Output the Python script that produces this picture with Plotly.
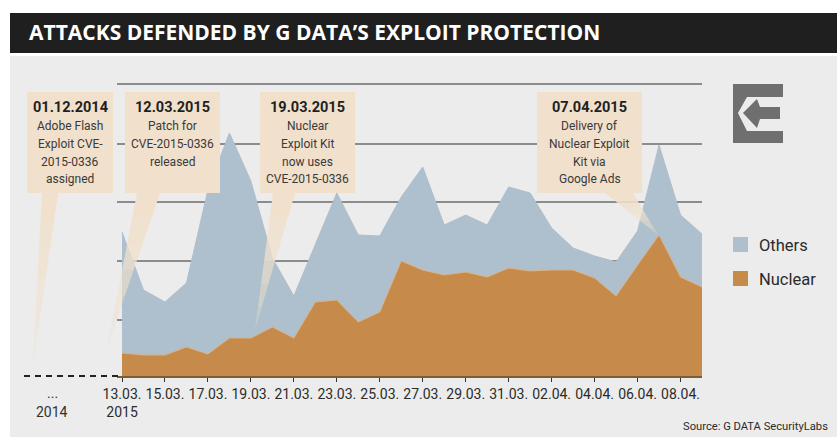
import plotly.graph_objects as go

W, H = 837, 437
FONT = "Roboto"

dates = ["13.03.", "14.03.", "15.03.", "16.03.", "17.03.", "18.03.", "19.03.", "20.03.", "21.03.", "22.03.",
         "23.03.", "24.03.", "25.03.", "26.03.", "27.03.", "28.03.", "29.03.", "30.03.", "31.03.", "01.04.",
         "02.04.", "03.04.", "04.04.", "05.04.", "06.04.", "07.04.", "08.04.", "09.04."]
nuclear = [23, 21, 21, 29, 22, 38, 38, 49, 38, 74, 76, 54, 64, 115, 106, 101, 104, 99, 108, 105, 106, 106, 98, 80,
           111, 141, 99, 89]
others = [121, 65, 53, 64, 164, 205, 157, 69, 42, 57, 107, 87, 76, 64, 103, 50, 57, 52, 81, 78, 42, 22, 22, 34,
          34, 90, 62, 53]
tick_dates = dates[0:27:2]
tick_labels = ["13.03.<br>2015"] + tick_dates[1:]
grid_values = [56, 115, 174, 232, 292]

callouts = [
    ("01.12.2014", ["Adobe Flash", "Exploit CVE-", "2015-0336", "assigned"]),
    ("12.03.2015", ["Patch for", "CVE-2015-0336", "released"]),
    ("19.03.2015", ["Nuclear", "Exploit Kit", "now uses", "CVE-2015-0336"]),
    ("07.04.2015", ["Delivery of", "Nuclear Exploit", "Kit via", "Google Ads"]),
]
callout_boxes = [(27, 113), (125, 220), (260, 355), (537, 642)]
callout_tails = [((42, 58), (33, 365)), ((137, 160), (107, 348)), ((273, 295), (255, 330)), ((605, 633), (658, 235))]


def px(x):
    return x / W


def py(y):
    return 1 - y / H


def rect(x0, y0, x1, y1, color, layer="below"):
    return dict(type="rect", xref="paper", yref="paper", x0=px(x0), x1=px(x1), y0=py(y0), y1=py(y1),
                fillcolor=color, line_width=0, layer=layer)


def poly(points, color, opacity=1.0, layer="above"):
    d = "M" + " L".join(f"{px(x):.5f},{py(y):.5f}" for x, y in points) + " Z"
    return dict(type="path", xref="paper", yref="paper", path=d, fillcolor=color, line_width=0,
                opacity=opacity, layer=layer)


def label(x, y, text, size=14, color="#444444", anchor="center", yanchor="middle", bold=False, family=FONT):
    return dict(xref="paper", yref="paper", x=px(x), y=py(y), xanchor=anchor, yanchor=yanchor, showarrow=False,
                text=f"<b>{text}</b>" if bold else text, align=anchor,
                font=dict(family=family, size=size, color=color))


fig = go.Figure()
fig.add_trace(go.Scatter(x=dates, y=nuclear, name="Nuclear", stackgroup="one", mode="lines",
                         line=dict(color="#d8b083", width=1), fillcolor="#c68b4a", hoverinfo="x+y"))
fig.add_trace(go.Scatter(x=dates, y=others, name="Others", stackgroup="one", mode="lines",
                         line=dict(color="#aebfcd", width=1), fillcolor="#aebfcd", hoverinfo="x+y"))

shapes = [
    rect(10, 56, 837, 437, "#ececec"),
    rect(10, 13, 837, 53, "#1f1f1f"),
    dict(type="line", xref="paper", yref="paper", x0=px(24), x1=px(122), y0=py(376), y1=py(376),
         line=dict(color="#222222", width=2, dash="6px,5px"), layer="above"),
    rect(733, 237, 748, 252, "#aebfcd"),
    rect(733, 271, 748, 286, "#c68b4a"),
    poly([(733, 84), (783, 84), (783, 97), (747, 97), (738, 113), (747, 131), (783, 131), (783, 143), (733, 143)],
         "#6f6f6f"),
    poly([(743, 113), (757, 99), (760, 107), (780, 107), (780, 119), (760, 119), (757, 128)], "#6f6f6f"),
]

annotations = [
    label(27, 32, "ATTACKS DEFENDED BY G DATA’S EXPLOIT PROTECTION", size=21, color="#ffffff", anchor="left",
          bold=True, family="Open Sans"),
    label(757, 245, "Others", size=16.5, color="#2b2b2b", anchor="left"),
    label(757, 279, "Nuclear", size=16.5, color="#2b2b2b", anchor="left"),
    label(830, 426, "Source: G DATA SecurityLabs", size=11.2, color="#2b2b2b", anchor="right"),
    label(52, 393, "...", size=14, color="#333333"),
    label(52, 412, "2014", size=14, color="#333333"),
]

for (head, body), (x0, x1), ((t0, t1), tip) in zip(callouts, callout_boxes, callout_tails):
    shapes.append(rect(x0, 92, x1, 193, "#f0e0cc", layer="above"))
    steps = 6
    for i in range(steps):
        f0, f1 = i / steps, (i + 1) / steps
        a0, b0 = t0 + (tip[0] - t0) * f0, t1 + (tip[0] - t1) * f0
        a1, b1 = t0 + (tip[0] - t0) * f1, t1 + (tip[0] - t1) * f1
        y0, y1 = 193 + (tip[1] - 193) * f0, 193 + (tip[1] - 193) * f1
        shapes.append(poly([(a0, y0), (b0, y0), (b1, y1), (a1, y1)], "#f0e0cc", opacity=1 - 0.75 * f0))
    cx = (x0 + x1) / 2
    annotations.append(label(cx, 108, head, size=14.5, color="#1f1f1f", bold=True))
    for i, line in enumerate(body):
        annotations.append(label(cx, 125.5 + 18 * i, line, size=12, color="#3a3a3a"))

fig.update_layout(
    width=W, height=H, autosize=False, margin=dict(l=0, r=0, t=0, b=0), showlegend=False,
    paper_bgcolor="#ffffff", plot_bgcolor="rgba(0,0,0,0)", shapes=shapes, annotations=annotations,
    font=dict(family=FONT, color="#333333"),
    xaxis=dict(domain=[px(117), px(702)], type="category", categoryorder="array", categoryarray=dates,
               range=[-0.233, 27], tickmode="array", tickvals=tick_dates, ticktext=tick_labels,
               ticks="outside", ticklen=4, tickcolor="#333333", tickwidth=1, showgrid=False,
               showline=True, linecolor="#7d5c3a", linewidth=2, tickfont=dict(family=FONT, size=14, color="#2b2b2b"),
               tickangle=0, fixedrange=True, automargin=False),
    yaxis=dict(domain=[py(376), py(82)], range=[0, 294], tickmode="array", tickvals=grid_values,
               showticklabels=False, ticks="", showgrid=True, gridcolor="#8c8c8c", gridwidth=1.5,
               zeroline=False, showline=False, fixedrange=True, automargin=False),
)

fig.write_html("out.html", config={"displayModeBar": False},
               post_script="document.body.style.margin='0';")
